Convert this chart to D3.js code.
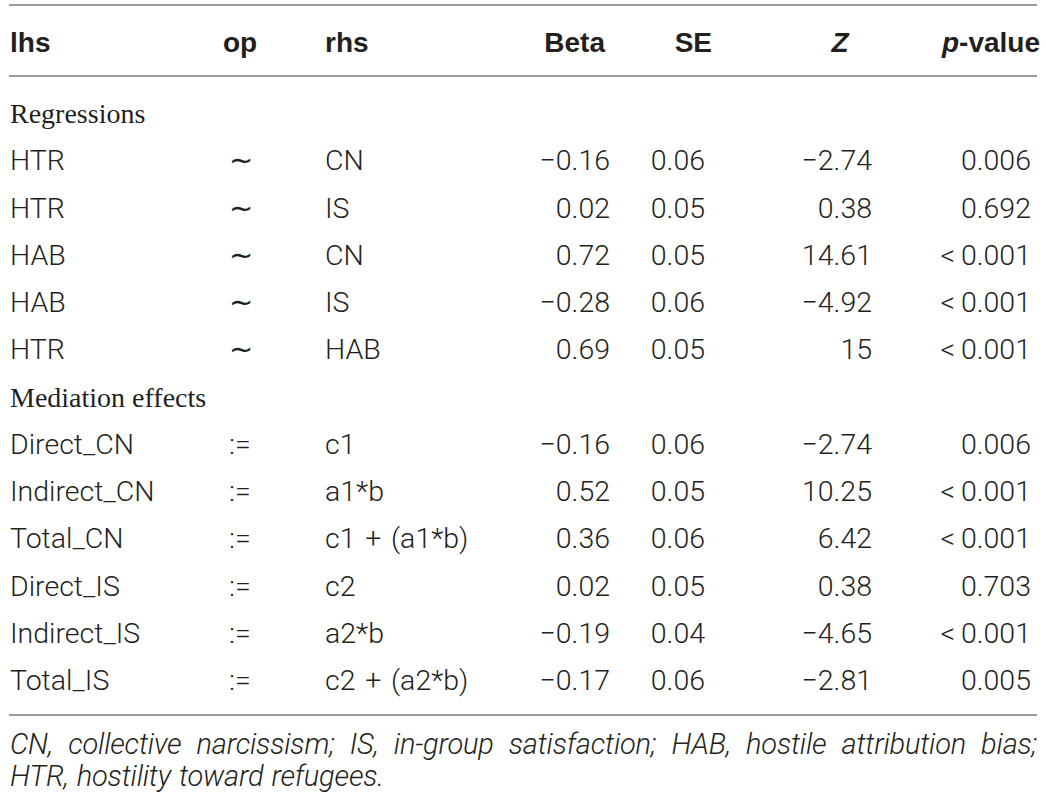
<!DOCTYPE html>
<html>
<head>
<meta charset="utf-8">
<script src="https://cdn.jsdelivr.net/npm/d3@7"></script>
<style>
  body { margin: 0; background: #fff; }
  svg text { fill: #231f20; }
</style>
</head>
<body>
<div id="chart"></div>
<script>
// table content
var headers = ["lhs", "op", "rhs", "Beta", "SE", "Z", "p-value"];
var sections = ["Regressions", "Mediation effects"];
var sectionOf = [0, 0, 0, 0, 0, 1, 1, 1, 1, 1, 1];
var lhs = ["HTR", "HTR", "HAB", "HAB", "HTR", "Direct_CN", "Indirect_CN", "Total_CN", "Direct_IS", "Indirect_IS", "Total_IS"];
var ops = ["~", "~", "~", "~", "~", ":=", ":=", ":=", ":=", ":=", ":="];
var rhs = ["CN", "IS", "CN", "IS", "HAB", "c1", "a1*b", "c1 + (a1*b)", "c2", "a2*b", "c2 + (a2*b)"];
var beta = [-0.16, 0.02, 0.72, -0.28, 0.69, -0.16, 0.52, 0.36, 0.02, -0.19, -0.17];
var se = [0.06, 0.05, 0.05, 0.06, 0.05, 0.06, 0.05, 0.06, 0.05, 0.04, 0.06];
var zval = [-2.74, 0.38, 14.61, -4.92, 15, -2.74, 10.25, 6.42, 0.38, -4.65, -2.81];
var pval = ["0.006", "0.692", "<0.001", "<0.001", "<0.001", "0.006", "<0.001", "<0.001", "0.703", "<0.001", "0.005"];
var footnote = ["CN, collective narcissism; IS, in-group satisfaction; HAB, hostile attribution bias;",
                "HTR, hostility toward refugees."];

var width = 1046, height = 802;
var left = 9, right = 1037;

var svg = d3.select("#chart").append("svg")
    .attr("width", width)
    .attr("height", height);

function num(v, d) {
  var s = d == null ? String(v) : v.toFixed(d);
  return s.replace("-", "\u2212");
}

// columns: where each cell sits
var cols = [
  {x: 10,   anchor: "start", text: function(i){ return lhs[i]; }},
  {x: 229,  anchor: "start", text: function(i){ return ops[i] == "~" ? "\u223C" : ops[i]; }},
  {x: 325,  anchor: "start", text: function(i){ return rhs[i].replace(" + ", "\u2004+\u2004"); }},
  {x: 610,  anchor: "end",   text: function(i){ return num(beta[i], 2); }},
  {x: 705,  anchor: "end",   text: function(i){ return num(se[i], 2); }},
  {x: 872,  anchor: "end",   text: function(i){ return num(zval[i]); }},
  {x: 1031, anchor: "end",   text: function(i){ return pval[i].replace("<", "<\u2009"); }}
];
var headX = [10, 223, 325, 605, 712, 840, 1040];
var headAnchor = ["start", "start", "start", "end", "end", "middle", "end"];

// build the line list: section labels mixed with data rows
var lines = [];
sectionOf.forEach(function(s, i) {
  if (i == 0 || sectionOf[i - 1] != s) lines.push({section: s});
  lines.push({row: i});
});

var y = d3.scaleLinear().domain([0, lines.length - 1]).range([113, 680]);

// rules
[5, 76, 715].forEach(function(ry) {
  svg.append("line")
    .attr("x1", left).attr("x2", right)
    .attr("y1", ry).attr("y2", ry)
    .attr("stroke", "#9a9a9a")
    .attr("stroke-width", 2);
});

// header
headers.forEach(function(h, j) {
  var t = svg.append("text")
    .attr("x", headX[j])
    .attr("y", 52)
    .attr("text-anchor", headAnchor[j])
    .style("font-family", "'Liberation Sans', Arial, sans-serif")
    .style("font-weight", "bold")
    .style("font-size", "28px");
  if (h == "Z") {
    t.style("font-style", "italic").text("Z");
  } else if (h == "p-value") {
    t.append("tspan").style("font-style", "italic").text("p");
    t.append("tspan").text("-value");
  } else {
    t.text(h);
  }
});

// body
lines.forEach(function(l, k) {
  var cy = y(k);
  if (l.section != null) {
    svg.append("text")
      .attr("x", 10)
      .attr("y", cy + 10)
      .style("font-family", "'Liberation Serif', 'Times New Roman', serif")
      .style("font-size", "28px")
      .text(sections[l.section]);
  } else {
    cols.forEach(function(c) {
      svg.append("text")
        .attr("x", c.x)
        .attr("y", cy + 10)
        .attr("text-anchor", c.anchor)
        .style("font-family", "Roboto, sans-serif")
        .style("font-weight", 300)
        .style("font-size", "28.5px")
        .text(c.text(l.row));
    });
  }
});

// footnote, first line justified word by word
footnote.forEach(function(line, n) {
  var g = svg.append("g");
  var words = line.split(" ");
  var nodes = words.map(function(w) {
    return g.append("text")
      .attr("y", 754 + n * 32)
      .style("font-family", "Roboto, sans-serif")
      .style("font-weight", 300)
      .style("font-style", "italic")
      .style("font-size", "29px")
      .style("letter-spacing", "-0.2px")
      .text(w);
  });
  var lens = nodes.map(function(t) { return t.node().getComputedTextLength(); });
  var gap = n == 0 ? (right - 10 - d3.sum(lens)) / (words.length - 1) : 8;
  var x = 10;
  nodes.forEach(function(t, i) {
    t.attr("x", x);
    x += lens[i] + gap;
  });
});
</script>
</body>
</html>
